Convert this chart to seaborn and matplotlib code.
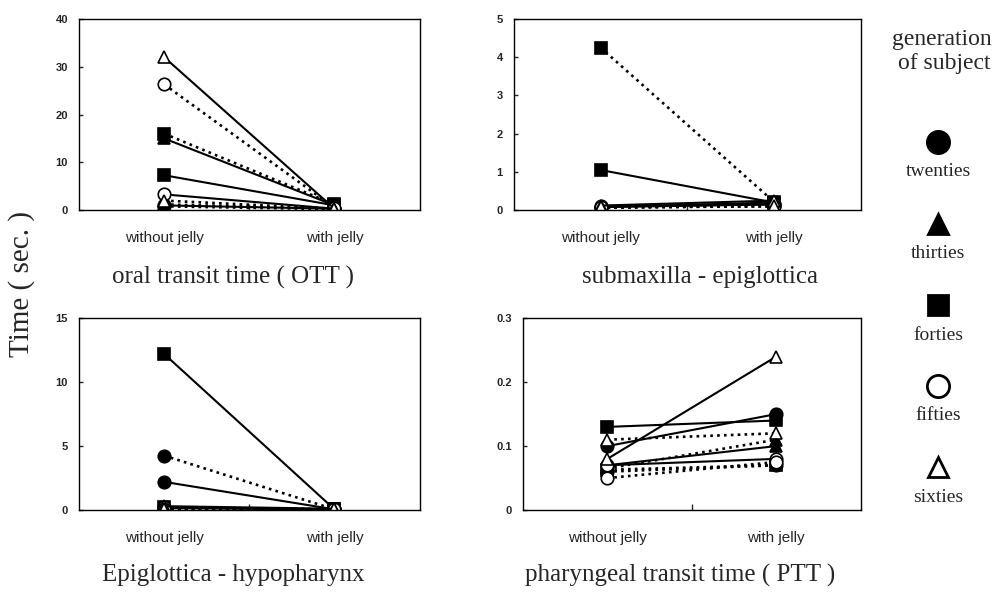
import numpy as np
import pandas as pd
import seaborn as sns
import matplotlib.pyplot as plt

# subjects: two per generation, one drawn solid, one dotted
generation = ["twenties", "twenties", "thirties", "thirties", "forties",
              "forties", "fifties", "fifties", "sixties", "sixties"]
line_kind = ["solid", "dotted"] * 5
conditions = ["without jelly", "with jelly"]

# oral transit time ( OTT )
ott_without = [1.0, 0.8, 15.0, 1.2, 7.3, 16.0, 3.3, 26.3, 32.0, 2.0]
ott_with = [0.3, 0.2, 1.0, 0.3, 1.0, 1.2, 0.3, 0.5, 0.3, 0.3]
# submaxilla - epiglottica
se_without = [0.08, 0.06, 0.08, 0.07, 1.05, 4.25, 0.10, 0.07, 0.12, 0.08]
se_with = [0.15, 0.12, 0.20, 0.15, 0.20, 0.22, 0.15, 0.10, 0.25, 0.10]
# Epiglottica - hypopharynx
eh_without = [2.2, 4.25, 0.15, 0.10, 12.2, 0.20, 0.20, 0.10, 0.30, 0.05]
eh_with = [0.05, 0.05, 0.05, 0.05, 0.05, 0.05, 0.05, 0.05, 0.10, 0.05]
# pharyngeal transit time ( PTT )
ptt_without = [0.10, 0.06, 0.07, 0.065, 0.13, 0.063, 0.07, 0.05, 0.08, 0.11]
ptt_with = [0.15, 0.07, 0.10, 0.11, 0.14, 0.07, 0.08, 0.075, 0.24, 0.12]

panel_titles = ["oral transit time ( OTT )", "submaxilla - epiglottica",
                "Epiglottica - hypopharynx", "pharyngeal transit time ( PTT )"]
panel_ylim = [40, 5, 15, 0.3]
panel_yticks = [[0, 10, 20, 30, 40], [0, 1, 2, 3, 4, 5], [0, 5, 10, 15], [0, 0.1, 0.2, 0.3]]
panel_yticklabels = [["0", "10", "20", "30", "40"], ["0", "1", "2", "3", "4", "5"],
                     ["0", "5", "10", "15"], ["0", "0.1", "0.2", "0.3"]]
panel_data = [(ott_without, ott_with), (se_without, se_with),
              (eh_without, eh_with), (ptt_without, ptt_with)]

markers = {"twenties": ("o", "black"), "thirties": ("^", "black"),
           "forties": ("s", "black"), "fifties": ("o", "white"),
           "sixties": ("^", "white")}

rows = []
for p, (wo, wi) in enumerate(panel_data):
    for s in range(len(generation)):
        rows.append((p, s, generation[s], line_kind[s], 0, wo[s]))
        rows.append((p, s, generation[s], line_kind[s], 1, wi[s]))
df = pd.DataFrame(rows, columns=["panel", "subject", "generation", "kind", "cond", "time"])

sns.set_style("white")
plt.rcParams["font.family"] = ["Liberation Sans", "DejaVu Sans"]

fig = plt.figure(figsize=(9.93, 5.92), dpi=100)
boxes = [[0.0796, 0.645, 0.343, 0.323], [0.5176, 0.645, 0.349, 0.323],
         [0.0796, 0.1385, 0.343, 0.324], [0.5267, 0.1385, 0.340, 0.324]]
title_x = [0.235, 0.705, 0.235, 0.685]
title_y = [1 - 277 / 592, 1 - 277 / 592, 1 - 575 / 592, 1 - 575 / 592]

for p in range(4):
    ax = fig.add_axes(boxes[p])
    sub = df[df.panel == p]
    for s in range(len(generation)):
        d = sub[sub.subject == s]
        mk, fc = markers[generation[s]]
        if line_kind[s] == "solid":
            ls, lw = "-", 1.5
        else:
            ls, lw = (0, (1.0, 1.6)), 1.9
        sns.lineplot(data=d, x="cond", y="time", ax=ax, color="black",
                     linestyle=ls, linewidth=lw, marker=mk, markersize=9,
                     markerfacecolor=fc, markeredgecolor="black",
                     markeredgewidth=1.2, estimator=None, sort=False,
                     legend=False)
    ax.set_xlim(-0.5, 1.5)
    ax.set_ylim(0, panel_ylim[p])
    ax.set_yticks(panel_yticks[p])
    ax.set_yticklabels(panel_yticklabels[p], fontsize=8, fontweight="bold")
    ax.set_xticks([0, 1])
    ax.set_xticklabels(conditions, fontsize=11)
    ax.set_xticks([0.5], minor=True)
    ax.tick_params(axis="x", which="major", length=0, pad=15)
    ax.tick_params(axis="x", which="minor", direction="in", length=4, width=1, bottom=True)
    ax.tick_params(axis="y", direction="in", length=3, width=1, left=True, pad=8)
    ax.set_xlabel("")
    ax.set_ylabel("")
    for sp in ax.spines.values():
        sp.set_color("black")
        sp.set_linewidth(1.0)
    fig.text(title_x[p], title_y[p], panel_titles[p], ha="center", va="center",
             fontsize=18, family="Liberation Serif")

fig.text(0.022, 1 - 284 / 592, "Time ( sec. )", rotation=90, ha="center",
         va="center", fontsize=21, family="Liberation Serif")

# legend column
fig.text(942 / 993, 1 - 39 / 592, "generation", ha="center", va="center",
         fontsize=17, family="Liberation Serif")
fig.text(944 / 993, 1 - 64 / 592, "of subject", ha="center", va="center",
         fontsize=17, family="Liberation Serif")
lax = fig.add_axes([0.0, 0.0, 1.0, 1.0])
lax.set_xlim(0, 993)
lax.set_ylim(592, 0)
lax.axis("off")
gens = ["twenties", "thirties", "forties", "fifties", "sixties"]
marker_y = [142, 224, 305, 386, 467]
for g, y in zip(gens, marker_y):
    mk, fc = markers[g]
    size = 16 if mk == "o" else (15 if mk == "^" else 14)
    lax.plot([938], [y], marker=mk, markersize=size, markerfacecolor=fc,
             markeredgecolor="black", markeredgewidth=2, linestyle="none")
    lax.text(938, y + 30, g, ha="center", va="center", fontsize=14,
             family="Liberation Serif")

fig.savefig("out.png", dpi=100)
